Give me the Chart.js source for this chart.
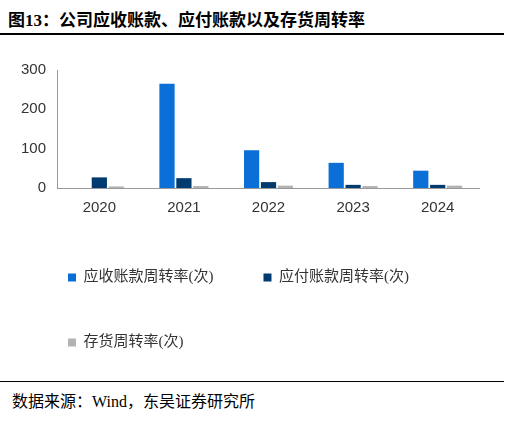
<!DOCTYPE html>
<html><head><meta charset="utf-8">
<script src="https://cdn.jsdelivr.net/npm/chart.js@4"></script>
<style>
body{margin:0;width:509px;height:422px;background:#fff;font-family:"Liberation Serif","Noto Sans CJK SC",serif;position:relative;overflow:hidden}
#t{position:absolute;left:8px;top:6px;font-size:17px;font-weight:bold;font-family:"Liberation Serif","Noto Sans CJK SC";}
#l1{position:absolute;left:0;top:33px;width:504px;border-top:2px solid #000}
#l2{position:absolute;left:0;top:381px;width:504px;border-top:1px solid #000}
#s{position:absolute;left:12px;top:388px;font-size:16px;font-family:"Liberation Serif","Noto Sans CJK SC"}
#c{position:absolute;left:0;top:58px;width:480px;height:302px}
</style></head><body>
<div id="t">图13：公司应收账款、应付账款以及存货周转率</div>
<div id="l1"></div>
<div id="c"><canvas id="cv"></canvas></div>
<div id="l2"></div>
<div id="s">数据来源：Wind，东吴证券研究所</div>
<script>
const years=["2020","2021","2022","2023","2024"];
const receivable=[0,265,96,64,44];
const payable=[27,25,15,8,8];
const inventory=[4,5,6,5,6];
new Chart(document.getElementById('cv'),{type:'bar',
data:{labels:years,datasets:[
{label:'应收账款周转率(次)',data:receivable,backgroundColor:'#0b6fd8'},
{label:'应付账款周转率(次)',data:payable,backgroundColor:'#003b6f'},
{label:'存货周转率(次)',data:inventory,backgroundColor:'#b3b3b3'}]},
options:{animation:false,responsive:true,maintainAspectRatio:false,
layout:{padding:{left:18,right:0,top:0}},
datasets:{bar:{categoryPercentage:0.6,barPercentage:0.9}},
scales:{y:{min:0,max:300,ticks:{stepSize:50,color:'#333',font:{size:15,family:'Liberation Sans'}},grid:{display:false},border:{color:'#999'}},
x:{ticks:{color:'#333',font:{size:15,family:'Liberation Sans'}},grid:{display:false},border:{color:'#999'}}},
plugins:{legend:{position:'bottom',align:'start',labels:{boxWidth:8,boxHeight:8,color:'#333',padding:50,font:{size:15,family:'Liberation Serif, Noto Sans CJK SC'}}}}}});
</script></body></html>
